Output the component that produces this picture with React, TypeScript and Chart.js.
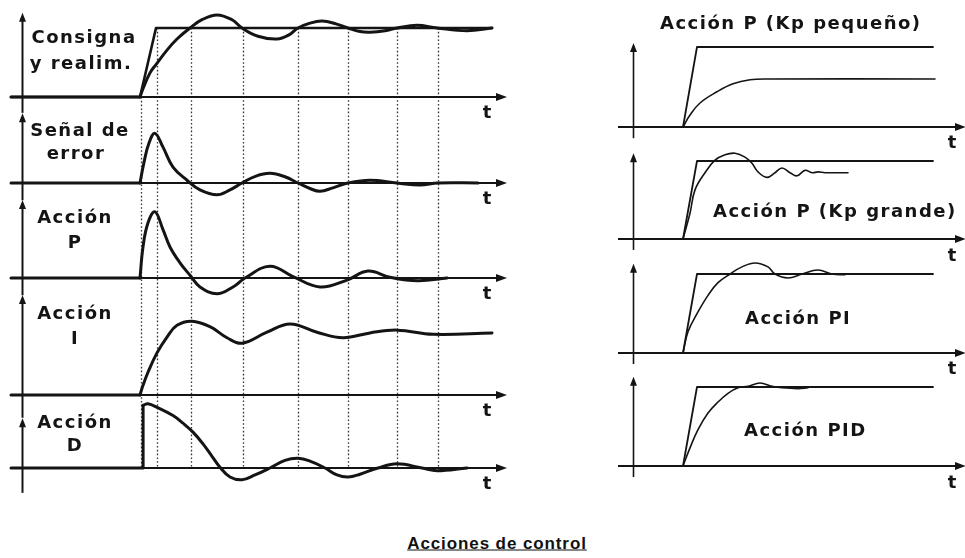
import React, { useEffect, useRef } from "react";
import { Chart, registerables } from "chart.js";

Chart.register(...registerables);

const INK = "#141414";

// ---------------- LEFT PANEL DATA (time units; setpoint level = 1) ----------------
const leftGridT = [0.1, 1.7, 5.1, 10.3, 15.8, 20.8, 25.7, 29.8];

const setpointT = [-12.9, 0, 1.6, 35.2];
const setpointV = [0, 0, 1, 1];

const feedbackT = [-12.9, 0, 0.3, 1.0, 1.6, 2.7, 3.7, 5.0, 6.2, 7.7, 9.2, 10.2, 11.8, 13.7, 14.9, 15.8, 17.0, 18.2, 19.6, 20.8, 22.0, 23.0, 24.5, 25.7, 27.7, 29.7, 32.7, 35.2];
const feedbackV = [0, 0, 0.12, 0.35, 0.47, 0.68, 0.84, 1.0, 1.12, 1.19, 1.12, 1.0, 0.88, 0.84, 0.9, 1.0, 1.07, 1.1, 1.06, 1.0, 0.95, 0.94, 0.96, 1.0, 1.04, 1.0, 0.96, 1.0];

const errorT = [-12.9, 0, 0.4, 0.9, 1.5, 2.3, 3.3, 4.7, 6.0, 7.7, 9.0, 10.2, 11.6, 13.0, 14.5, 15.8, 17.0, 18.0, 19.3, 20.8, 23.0, 25.7, 28.0, 29.8, 33.8];
const errorV = [0, 0, 0.3, 0.58, 0.72, 0.52, 0.23, 0.04, -0.1, -0.17, -0.1, 0, 0.1, 0.14, 0.09, 0, -0.08, -0.12, -0.07, 0, 0.04, 0, -0.03, 0, 0];

const actionPT = [-12.9, 0, 0.3, 0.8, 1.5, 2.3, 3.0, 4.0, 5.0, 6.0, 7.7, 9.3, 10.5, 13.0, 15.3, 18.0, 20.7, 22.8, 25.0, 27.8, 30.7];
const actionPV = [0, 0, 0.45, 0.8, 0.96, 0.7, 0.45, 0.22, 0.04, -0.13, -0.23, -0.13, 0, 0.17, 0.02, -0.13, -0.03, 0.1, 0.01, -0.04, 0];

const actionIT = [-12.9, 0, 0.3, 0.8, 1.7, 2.7, 3.7, 5.2, 7.0, 8.7, 10.2, 12.7, 15.0, 17.7, 20.3, 23.0, 25.7, 29.3, 35.2];
const actionIV = [0, 0, 0.14, 0.33, 0.61, 0.84, 1.01, 1.07, 0.99, 0.83, 0.75, 0.91, 1.03, 0.91, 0.83, 0.9, 0.94, 0.88, 0.9];

const actionDT = [-12.9, 0.3, 0.31, 0.8, 1.7, 3.3, 4.3, 5.3, 6.3, 7.2, 8.0, 9.0, 10.2, 11.5, 13.0, 14.5, 15.8, 17.0, 18.5, 19.7, 20.8, 22.0, 23.8, 25.7, 28.2, 29.7, 32.7];
const actionDV = [0, 0, 0.91, 0.93, 0.88, 0.76, 0.65, 0.52, 0.35, 0.17, 0.01, -0.13, -0.17, -0.1, 0, 0.11, 0.14, 0.1, 0, -0.1, -0.13, -0.09, 0, 0.06, 0, -0.04, 0];

// ---------------- RIGHT PANEL DATA ----------------
const rSetT = [-5, 0, 1.4, 25];
const rSetV = [0, 0, 1, 1];

const kpSmallT = [-5, 0, 0.7, 1.7, 3.4, 5.0, 6.7, 8.4, 25.2];
const kpSmallV = [0, 0, 0.15, 0.3, 0.44, 0.54, 0.59, 0.6, 0.6];

const kpBigT = [-5, 0, 0.7, 1.2, 2.2, 3.2, 4.2, 5.2, 6.2, 6.9, 7.5, 8.4, 9.2, 9.9, 10.7, 11.4, 12.2, 12.9, 13.5, 14.2, 16.5];
const kpBigV = [0, 0, 0.33, 0.63, 0.85, 1.01, 1.08, 1.1, 1.05, 0.97, 0.86, 0.79, 0.85, 0.91, 0.85, 0.81, 0.88, 0.85, 0.86, 0.85, 0.85];

const piT = [-5, 0, 0.5, 1.5, 2.5, 3.5, 4.7, 5.9, 7.2, 8.5, 9.2, 10.5, 11.9, 13.5, 14.9, 16.2];
const piV = [0, 0, 0.27, 0.52, 0.73, 0.89, 1.0, 1.09, 1.14, 1.09, 1.0, 0.95, 1.0, 1.05, 1.0, 0.99];

const pidT = [-5, 0, 0.7, 1.5, 2.5, 3.5, 4.5, 5.5, 6.5, 7.7, 8.9, 9.9, 11.5, 12.5];
const pidV = [0, 0, 0.23, 0.46, 0.67, 0.81, 0.92, 0.99, 1.01, 1.05, 1.01, 0.99, 0.98, 0.99];

// ---------------- LAYOUT ----------------
// straight: index of the last point of the leading straight part (flat zero / jump)
type Series = { t: number[]; v: number[]; w: number; smooth: boolean; straight: number };
type Sub = { base: number; unit: number; vTop: number; vBottom: number; series: Series[] };

const leftSubs: Sub[] = [
  { base: 97, unit: 69, vTop: 1.22, vBottom: -0.23, series: [
    { t: setpointT, v: setpointV, w: 2.6, smooth: false, straight: 0 },
    { t: feedbackT, v: feedbackV, w: 3, smooth: true, straight: 1 },
  ] },
  { base: 183, unit: 69, vTop: 1.01, vBottom: -0.25, series: [{ t: errorT, v: errorV, w: 3, smooth: true, straight: 1 }] },
  { base: 278, unit: 69, vTop: 1.13, vBottom: -0.25, series: [{ t: actionPT, v: actionPV, w: 3, smooth: true, straight: 1 }] },
  { base: 395, unit: 69, vTop: 1.45, vBottom: -0.33, series: [{ t: actionIT, v: actionIV, w: 3, smooth: true, straight: 1 }] },
  { base: 468, unit: 69, vTop: 0.72, vBottom: -0.36, series: [{ t: actionDT, v: actionDV, w: 3, smooth: true, straight: 2 }] },
];

const rightSubs: Sub[] = [
  { base: 127, unit: 80, vTop: 1.05, vBottom: -0.14, series: [
    { t: rSetT, v: rSetV, w: 1.8, smooth: false, straight: 0 },
    { t: kpSmallT, v: kpSmallV, w: 1.6, smooth: true, straight: 1 },
  ] },
  { base: 239, unit: 78, vTop: 1.1, vBottom: -0.14, series: [
    { t: rSetT, v: rSetV, w: 1.8, smooth: false, straight: 0 },
    { t: kpBigT, v: kpBigV, w: 1.6, smooth: true, straight: 1 },
  ] },
  { base: 353, unit: 79, vTop: 1.13, vBottom: -0.14, series: [
    { t: rSetT, v: rSetV, w: 1.8, smooth: false, straight: 0 },
    { t: piT, v: piV, w: 1.6, smooth: true, straight: 1 },
  ] },
  { base: 466, unit: 79, vTop: 1.13, vBottom: -0.14, series: [
    { t: rSetT, v: rSetV, w: 1.8, smooth: false, straight: 0 },
    { t: pidT, v: pidV, w: 1.6, smooth: true, straight: 1 },
  ] },
];

type PanelProps = {
  left: number; top: number; width: number; height: number;
  tMin: number; tMax: number; axisFromT: number; axisToT: number; yAxisT: number;
  vAxisWidth: number; subs: Sub[]; gridT?: number[];
};

function Panel(p: PanelProps) {
  const ref = useRef<HTMLCanvasElement>(null);
  useEffect(() => {
    const scales: any = { x: { type: "linear", min: p.tMin, max: p.tMax, display: false } };
    const datasets: any[] = [];
    const mk = (pts: { x: number; y: number }[], i: number, w: number, tension: number) => ({
      data: pts,
      xAxisID: "x", yAxisID: "y" + i,
      borderColor: INK, borderWidth: w, pointRadius: 0,
      tension,
      fill: false, borderJoinStyle: "round", borderCapStyle: "round",
    });
    p.subs.forEach((s, i) => {
      scales["y" + i] = {
        type: "linear", display: false,
        min: (s.base - p.top - p.height) / s.unit,
        max: (s.base - p.top) / s.unit,
      };
      s.series.forEach((se) => {
        const pts = se.t.map((t, k) => ({ x: t, y: se.v[k] }));
        if (!se.smooth) {
          datasets.push(mk(pts, i, se.w, 0));
        } else {
          datasets.push(mk(pts.slice(0, se.straight + 1), i, se.w, 0));
          datasets.push(mk(pts.slice(se.straight), i, se.w, 0.4));
        }
      });
    });

    const deco = {
      id: "deco",
      beforeDatasetsDraw(chart: any) {
        const ctx = chart.ctx as CanvasRenderingContext2D;
        const xs = chart.scales.x;
        const last = p.subs.length - 1;
        ctx.save();
        ctx.strokeStyle = INK; ctx.fillStyle = INK;
        if (p.gridT) {
          ctx.setLineDash([1.6, 2.2]);
          ctx.lineWidth = 1.3;
          ctx.strokeStyle = "#333";
          p.gridT.forEach((t, i) => {
            const x = Math.round(xs.getPixelForValue(t)) + 0.5;
            const y1 = chart.scales.y0.getPixelForValue(i === 0 ? 0 : 1);
            const y2 = chart.scales["y" + last].getPixelForValue(0);
            ctx.beginPath(); ctx.moveTo(x, y1); ctx.lineTo(x, y2); ctx.stroke();
          });
          ctx.setLineDash([]);
          ctx.strokeStyle = INK;
        }
        const xa = xs.getPixelForValue(p.axisFromT);
        const xb = xs.getPixelForValue(p.axisToT);
        const xv = Math.round(xs.getPixelForValue(p.yAxisT)) + 0.5;
        p.subs.forEach((s, i) => {
          const ys = chart.scales["y" + i];
          const y0 = Math.round(ys.getPixelForValue(0));
          ctx.lineWidth = 2;
          ctx.beginPath(); ctx.moveTo(xa, y0); ctx.lineTo(xb - 8, y0); ctx.stroke();
          ctx.beginPath(); ctx.moveTo(xb, y0); ctx.lineTo(xb - 11, y0 - 4); ctx.lineTo(xb - 11, y0 + 4); ctx.closePath(); ctx.fill();
          const yt = ys.getPixelForValue(s.vTop);
          const yb = ys.getPixelForValue(s.vBottom);
          ctx.lineWidth = p.vAxisWidth;
          ctx.beginPath(); ctx.moveTo(xv, yt + 5); ctx.lineTo(xv, yb); ctx.stroke();
          ctx.beginPath(); ctx.moveTo(xv, yt); ctx.lineTo(xv - 3.5, yt + 9); ctx.lineTo(xv + 3.5, yt + 9); ctx.closePath(); ctx.fill();
        });
        ctx.restore();
      },
    };

    const chart = new Chart(ref.current as HTMLCanvasElement, {
      type: "line",
      data: { datasets },
      options: {
        responsive: false,
        animation: false,
        events: [],
        layout: { padding: 0 },
        plugins: { legend: { display: false }, tooltip: { enabled: false }, title: { display: false } },
        scales,
      } as any,
      plugins: [deco as any],
    });
    return () => chart.destroy();
  }, []);
  return (
    <canvas
      ref={ref}
      width={p.width}
      height={p.height}
      style={{ position: "absolute", left: p.left, top: p.top, width: p.width, height: p.height }}
    />
  );
}

const LABEL_FONT = "'DejaVu Sans', Verdana, sans-serif";

type Txt = { s: string; x: number; y: number; align: "c" | "l" };
const labels: Txt[] = [
  { s: "Consigna", x: 84, y: 37, align: "c" },
  { s: "y realim.", x: 81, y: 63, align: "c" },
  { s: "Señal de", x: 80, y: 130, align: "c" },
  { s: "error", x: 76, y: 153, align: "c" },
  { s: "Acción", x: 75, y: 217, align: "c" },
  { s: "P", x: 75, y: 242, align: "c" },
  { s: "Acción", x: 75, y: 313, align: "c" },
  { s: "I", x: 75, y: 338, align: "c" },
  { s: "Acción", x: 75, y: 422, align: "c" },
  { s: "D", x: 75, y: 445, align: "c" },
  { s: "Acción P (Kp pequeño)", x: 660, y: 23, align: "l" },
  { s: "Acción P (Kp grande)", x: 713, y: 211, align: "l" },
  { s: "Acción PI", x: 745, y: 318, align: "l" },
  { s: "Acción PID", x: 744, y: 430, align: "l" },
];
const tLabelsLeft = [112, 198, 293, 410, 483];
const tLabelsRight = [142, 255, 368, 482];

export default function App() {
  return (
    <div style={{ position: "absolute", left: 0, top: 0, width: 965, height: 558, background: "#fff", overflow: "hidden" }}>
      <Panel left={0} top={0} width={520} height={500} tMin={-14} tMax={38}
        axisFromT={-12.9} axisToT={36.7} yAxisT={-11.8} vAxisWidth={2}
        subs={leftSubs} gridT={leftGridT} />
      <Panel left={600} top={0} width={365} height={500} tMin={-8.3} tMax={28.2}
        axisFromT={-6.5} axisToT={28.3} yAxisT={-5} vAxisWidth={1.6}
        subs={rightSubs} />
      {labels.map((l, i) => (
        <div key={i} style={{
          position: "absolute", left: l.x, top: l.y,
          transform: l.align === "c" ? "translate(-50%, -50%)" : "translate(0, -50%)",
          font: `bold 18px ${LABEL_FONT}`, lineHeight: "18px", letterSpacing: "1.5px",
          color: INK, whiteSpace: "nowrap",
        }}>{l.s}</div>
      ))}
      {tLabelsLeft.map((y, i) => (
        <div key={"tl" + i} style={{ position: "absolute", left: 487, top: y, transform: "translate(-50%, -50%)", font: `bold 18px ${LABEL_FONT}`, lineHeight: "18px", color: INK }}>t</div>
      ))}
      {tLabelsRight.map((y, i) => (
        <div key={"tr" + i} style={{ position: "absolute", left: 952, top: y, transform: "translate(-50%, -50%)", font: `bold 18px ${LABEL_FONT}`, lineHeight: "18px", color: INK }}>t</div>
      ))}
      <div style={{
        position: "absolute", left: 497, top: 543, transform: "translate(-50%, -50%)",
        font: "bold 17px 'Liberation Sans', Arial, sans-serif", lineHeight: "17px", letterSpacing: "0.9px",
        textDecoration: "underline", color: "#111", whiteSpace: "nowrap",
      }}>Acciones de control</div>
    </div>
  );
}
